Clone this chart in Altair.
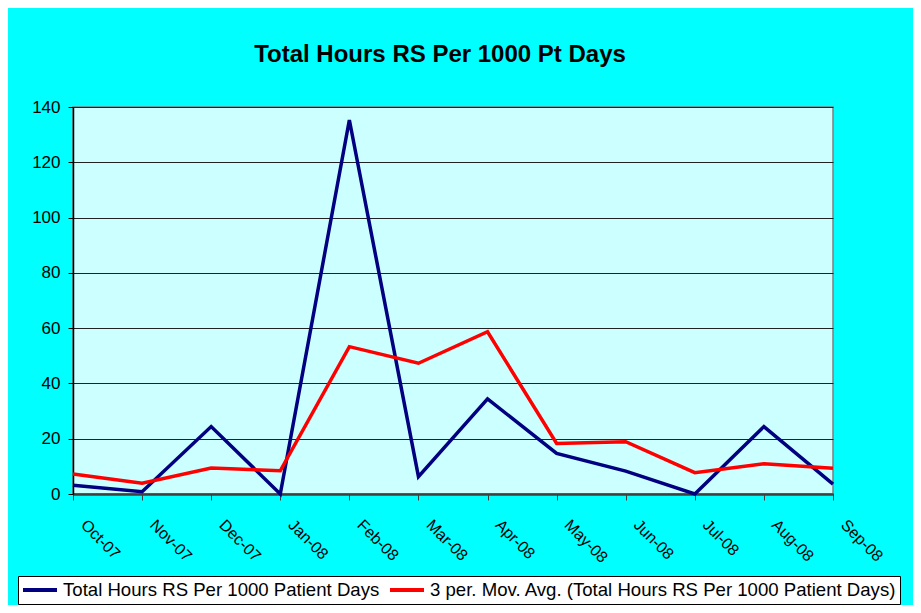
import altair as alt
import pandas as pd

months = ["Oct-07", "Nov-07", "Dec-07", "Jan-08", "Feb-08", "Mar-08",
          "Apr-08", "May-08", "Jun-08", "Jul-08", "Aug-08", "Sep-08"]
total_hours = [3.2, 0.8, 24.4, 0.0, 135.3, 6.3, 34.4, 14.7, 8.3, 0.0, 24.4, 3.6]
mov_avg = [7.2, 3.9, 9.4, 8.4, 53.3, 47.3, 58.7, 18.3, 18.9, 7.7, 10.9, 9.3]
series_names = ["Total Hours RS Per 1000 Patient Days",
                "3 per. Mov. Avg. (Total Hours RS Per 1000 Patient Days)"]
series_colors = ["#000080", "#FF0000"]
y_ticks = [0, 20, 40, 60, 80, 100, 120, 140]

rows = []
for i, m in enumerate(months):
    rows.append({"month": m, "value": total_hours[i], "series": series_names[0]})
for i, m in enumerate(months):
    rows.append({"month": m, "value": mov_avg[i], "series": series_names[1]})
df = pd.DataFrame(rows)

FONT = "Liberation Sans"

chart = alt.Chart(df).mark_line(strokeWidth=3.5).encode(
    x=alt.X("month:N", sort=months,
            scale=alt.Scale(padding=0),
            axis=alt.Axis(title=None, labelAngle=45, labelAlign="left",
                          labelBaseline="middle", labelFontSize=16,
                          labelFont=FONT, labelColor="black",
                          labelPadding=22, labelOffset=10,
                          labelOverlap=False, labelBound=False, labelFlush=False,
                          tickSize=6, tickColor="#404040", tickWidth=1,
                          domainColor="#404040", domainWidth=2.5, grid=False)),
    y=alt.Y("value:Q", scale=alt.Scale(domain=[0, 140], nice=False),
            axis=alt.Axis(title=None, values=y_ticks, labelFontSize=17,
                          labelFont=FONT, labelColor="black", labelPadding=8,
                          tickSize=5, tickColor="black", domainColor="black",
                          domainWidth=1.5, grid=True, gridColor="#222222",
                          gridWidth=1)),
    color=alt.Color("series:N",
                    scale=alt.Scale(domain=series_names, range=series_colors),
                    legend=alt.Legend(title=None, orient="none", legendX=-55,
                                      legendY=469, direction="horizontal",
                                      symbolType="stroke", symbolSize=1156,
                                      symbolStrokeWidth=4, labelFontSize=18.6,
                                      labelFont=FONT, labelColor="black",
                                      labelLimit=1000, labelOffset=4,
                                      clipHeight=22,
                                      columnPadding=8, padding=3,
                                      strokeColor="black", fillColor="white",
                                      cornerRadius=0)),
).properties(
    width=760,
    height=387,
    padding={"left": 65, "top": 99, "right": 80, "bottom": 111},
    autosize=alt.AutoSizeParams(type="none"),
    background="#00FFFF",
    title=alt.TitleParams("Total Hours RS Per 1000 Pt Days", font=FONT,
                          fontSize=24, fontWeight="bold", color="black",
                          anchor="middle", dx=-13, offset=31),
).configure_view(
    fill="#CCFFFF", stroke="#808080", strokeWidth=1.5
)

chart.save("out.html", embed_options={"renderer": "svg", "actions": False})
